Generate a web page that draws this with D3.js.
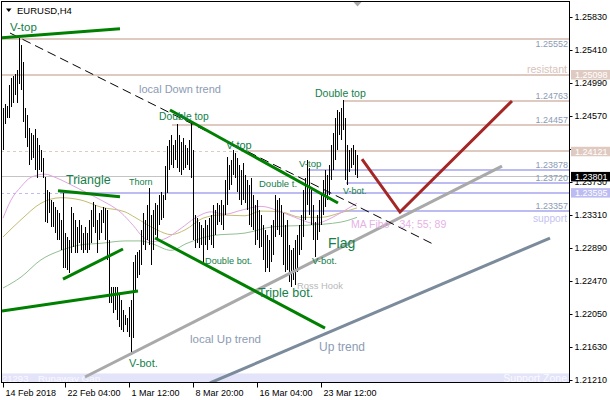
<!DOCTYPE html>
<html><head><meta charset="utf-8">
<script src="https://cdn.jsdelivr.net/npm/d3@7/dist/d3.min.js"></script>
<style>
html,body{margin:0;padding:0;background:#fff;}
svg{display:block;}
text{font-family:"Liberation Sans",Arial,sans-serif;}
</style></head><body>
<svg id="chart" width="610" height="400"></svg>
<script>
// ---- data (EURUSD H4, bar index 0 = first visible bar) ----
const barHigh = [1.2467,1.2472,1.2470,1.2496,1.2505,1.2508,1.2510,1.2515,1.2556,1.2547,
1.2526,1.2467,1.2458,1.2442,1.2436,1.2433,1.2440,1.2429,1.2420,1.2414,
1.2404,1.2379,1.2363,1.2360,1.2350,1.2348,1.2341,1.2337,1.2333,1.2325,
1.2359,1.2308,1.2303,1.2299,1.2341,1.2333,1.2325,1.2316,1.2325,1.2318,
1.2308,1.2316,1.2308,1.2325,1.2337,1.2348,1.2344,1.2325,1.2333,1.2337,
1.2341,1.2340,1.2337,1.2299,1.2239,1.2239,1.2239,1.2239,1.2232,1.2223,
1.2210,1.2204,1.2200,1.2214,1.2223,1.2271,1.2280,1.2284,1.2286,1.2312,
1.2333,1.2325,1.2344,1.2365,1.2331,1.2337,1.2346,1.2344,1.2356,1.2360,
1.2356,1.2393,1.2419,1.2426,1.2433,1.2420,1.2426,1.2447,1.2433,1.2424,
1.2429,1.2420,1.2416,1.2426,1.2449,1.2414,1.2331,1.2327,1.2322,1.2318,
1.2314,1.2325,1.2318,1.2327,1.2331,1.2344,1.2337,1.2346,1.2344,1.2350,
1.2344,1.2375,1.2405,1.2395,1.2401,1.2414,1.2410,1.2404,1.2395,1.2388,
1.2397,1.2382,1.2375,1.2369,1.2378,1.2356,1.2344,1.2350,1.2337,1.2331,
1.2318,1.2312,1.2305,1.2299,1.2318,1.2325,1.2356,1.2350,1.2353,1.2344,
1.2333,1.2318,1.2325,1.2293,1.2286,1.2289,1.2299,1.2305,1.2318,1.2331,
1.2363,1.2378,1.2401,1.2391,1.2363,1.2344,1.2322,1.2331,1.2350,1.2359,
1.2375,1.2388,1.2382,1.2395,1.2420,1.2436,1.2455,1.2465,1.2462,1.2467,
1.2477,1.2455,1.2420,1.2414,1.2416,1.2420,1.2414,1.2407];
const barLow = [1.2414,1.2447,1.2454,1.2454,1.2468,1.2473,1.2484,1.2473,1.2498,1.2490,
1.2449,1.2429,1.2418,1.2395,1.2401,1.2404,1.2388,1.2378,1.2388,1.2386,
1.2378,1.2322,1.2321,1.2334,1.2316,1.2316,1.2308,1.2299,1.2299,1.2286,
1.2263,1.2263,1.2261,1.2257,1.2283,1.2290,1.2283,1.2283,1.2295,1.2286,
1.2283,1.2286,1.2283,1.2286,1.2295,1.2316,1.2308,1.2283,1.2299,1.2308,
1.2321,1.2299,1.2274,1.2219,1.2219,1.2206,1.2210,1.2197,1.2188,1.2185,
1.2182,1.2191,1.2182,1.2176,1.2153,1.2175,1.2236,1.2251,1.2255,1.2267,
1.2293,1.2286,1.2299,1.2293,1.2267,1.2286,1.2305,1.2299,1.2318,1.2325,
1.2327,1.2350,1.2359,1.2388,1.2395,1.2391,1.2401,1.2391,1.2386,1.2382,
1.2388,1.2391,1.2395,1.2388,1.2378,1.2299,1.2289,1.2295,1.2289,1.2293,
1.2270,1.2293,1.2286,1.2299,1.2293,1.2289,1.2305,1.2318,1.2322,1.2318,
1.2312,1.2331,1.2344,1.2363,1.2369,1.2382,1.2378,1.2360,1.2350,1.2344,
1.2350,1.2346,1.2337,1.2318,1.2316,1.2312,1.2293,1.2299,1.2289,1.2290,
1.2274,1.2258,1.2263,1.2258,1.2271,1.2280,1.2303,1.2312,1.2305,1.2303,
1.2268,1.2258,1.2261,1.2246,1.2239,1.2248,1.2242,1.2258,1.2280,1.2286,
1.2303,1.2325,1.2344,1.2331,1.2318,1.2299,1.2278,1.2299,1.2309,1.2318,
1.2331,1.2341,1.2350,1.2356,1.2375,1.2388,1.2401,1.2414,1.2433,1.2426,
1.2439,1.2375,1.2369,1.2386,1.2391,1.2395,1.2382,1.2378];

const priceTicks = [1.25830,1.25410,1.24990,1.24570,1.24150,1.23730,1.23310,1.22890,1.22470,1.22050,1.21630,1.21210];
const hiddenTickLabels = [1.24150]; // covered by the 1.24121 price box
const dateTickIdx = [0,31,63,95,127,159];
const dateTickLabels = ["14 Feb 2018","22 Feb 04:00","1 Mar 12:00","8 Mar 20:00","16 Mar 04:00","23 Mar 12:00"];

// MA Fibo 34 / 55 / 89 at sample bars [index, price]
const ma34 = [[0,1.2327],[4,1.2350],[9,1.2367],[14,1.2379],[21,1.2383],[26,1.2379],[32,1.2372],[39,1.2363],[49,1.2350],[59,1.2334],[65,1.2318],[70,1.2303],[75,1.2297],[82,1.2302],[89,1.2314],[96,1.2327],[104,1.2335],[111,1.2332],[119,1.2337],[129,1.2342],[139,1.2335],[149,1.2325],[156,1.2320],[164,1.2327],[171,1.2337],[177,1.2346]];
const ma55 = [[0,1.2303],[9,1.2325],[19,1.2346],[29,1.2353],[39,1.2350],[49,1.2341],[61,1.2335],[66,1.2328],[77,1.2312],[84,1.2306],[91,1.2312],[100,1.2327],[109,1.2331],[121,1.2330],[129,1.2336],[139,1.2335],[149,1.2328],[159,1.2328],[169,1.2334],[177,1.2340]];
const ma89 = [[0,1.2238],[9,1.2252],[19,1.2274],[29,1.2286],[39,1.2293],[49,1.2295],[61,1.2298],[69,1.2298],[75,1.2294],[84,1.2286],[92,1.2295],[105,1.2305],[121,1.2308],[135,1.2316],[152,1.2318],[169,1.2322],[177,1.2328]];

// horizontal levels: price and first bar index
const levelPrices = [1.25552,1.25098,1.24763,1.24457,1.24121,1.23878,1.23720,1.23595,1.23357];
const levelStart  = [-2,-2,170,84.5,120,152.5,171.5,28.5,143.5];
const levelKind   = ["rose","rose","rose","rose","rose","lav","lav","lav","lav"];
const levelBoxed  = [false,true,false,false,true,false,false,true,false];
const levelDashTo = [null,null,null,null,120,null,null,28.5,null];
const bidPrice = 1.23801;
const zonePrice = 1.21293;

// trend lines [index, price]
const greenLines = [
  [[-0.5,1.25566],[58.5,1.25681]],
  [[83.5,1.24646],[167.5,1.23462]],
  [[76,1.23017],[161,1.21871]],
  [[27.5,1.23619],[58.5,1.23543]],
  [[30,1.22495],[60,1.22877]],
  [[-0.5,1.22088],[67.5,1.22342]]
];
const downTrend = [[3.5,1.25626],[216,1.22928]];
const localUp = [[41,1.21248],[249.5,1.23933]];
const upTrend = [[103.5,1.21172],[273.5,1.23017]];
const redV = [[179.5,1.24022],[198.5,1.23348],[254.5,1.24761]];

// text notes [text, index, price, kind, size]
const notes = [
  ["V-top",3.5,1.25651,"g",11.5],
  ["local Down trend",68,1.24862,"b",11],
  ["Double top",78,1.24519,"g",10.3],
  ["V-top",111.5,1.24150,"g",11],
  ["Double top",156,1.24811,"g",10.5],
  ["Triangle",31.5,1.23704,"g",12.5],
  ["Thorn",63,1.23691,"g",9],
  ["Double t.",128,1.23666,"g",9.5],
  ["V-top",148,1.23921,"g",9.6],
  ["V-bot.",170,1.23577,"g",9],
  ["Double bot.",101,1.22686,"g",9.2],
  ["V-bot.",154.5,1.22686,"g",9.5],
  ["Triple bot.",127.5,1.22266,"g",12.5],
  ["Ross Hook",147,1.22368,"r",9.4],
  ["Flag",162.5,1.22890,"g",14],
  ["local Up trend",93.5,1.21681,"b",11.5],
  ["Up trend",158,1.21579,"b",12],
  ["V-bot.",63,1.21375,"g",11]
];

// ---- drawing ----
const svg = d3.select("#chart");
const PL=1, PR=570, PT=1, PB=383;
const x = d3.scaleLinear().domain([0,177]).range([3,357]);
const y = d3.scaleLinear().domain([1.21210,1.25830]).range([380,17]);
const C = {rose:"#dfcac2", lav:"#bcbcf3", g:"#14804a", b:"#8c9bb4", r:"#b8b8b8",
  green:"#008000", gray:"#a9a9a9", slate:"#7b8b9b", red:"#a52626"};

svg.append("rect").attr("width",610).attr("height",400).attr("fill","#fff");
svg.append("defs").append("clipPath").attr("id","plot")
  .append("rect").attr("x",PL+1).attr("y",PT+1).attr("width",PR-PL-1).attr("height",PB-PT-1);
const plot = svg.append("g").attr("clip-path","url(#plot)");

// support zone band
plot.append("rect").attr("x",PL).attr("y",y(zonePrice)).attr("width",PR-PL)
  .attr("height",PB-y(zonePrice)).attr("fill","#e3e3fa");
plot.append("text").attr("x",2).attr("y",381.5).attr("font-size",9.5).attr("fill","#fafaff").text("21293");
plot.append("text").attr("x",38).attr("y",381.5).attr("font-size",9.8).attr("fill","#fafaff").text("Runaway Gap");
plot.append("text").attr("x",567).attr("y",381.5).attr("text-anchor","end").attr("font-size",10.5).attr("fill","#fafaff").text("Support Zone");

// levels
levelPrices.forEach((p,k)=>{
  const yy = Math.round(y(p));
  const col = C[levelKind[k]];
  if(levelDashTo[k]!==null){
    plot.append("line").attr("x1",PL).attr("x2",x(levelDashTo[k])).attr("y1",yy+0.5).attr("y2",yy+0.5)
      .attr("stroke",col).attr("stroke-width",1).attr("stroke-dasharray","3,3");
  }
  plot.append("line").attr("x1",Math.max(PL,x(levelStart[k]))).attr("x2",PR).attr("y1",yy).attr("y2",yy)
    .attr("stroke",col).attr("stroke-width",2.2);
});
// bid line
plot.append("line").attr("x1",PL).attr("x2",PR).attr("y1",Math.round(y(bidPrice))+0.5).attr("y2",Math.round(y(bidPrice))+0.5)
  .attr("stroke","#c4c4c4").attr("stroke-width",1);

// level price labels
const lblCol = "#8b9bb5";
levelPrices.forEach((p,k)=>{
  if(levelBoxed[k]) return;
  const dy = (k===0) ? 8.5 : -2;
  plot.append("text").attr("x",568).attr("y",y(p)+dy).attr("text-anchor","end")
    .attr("font-size",9).attr("fill",lblCol).text(p.toFixed(5));
});
plot.append("text").attr("x",567).attr("y",y(levelPrices[1])-1.5).attr("text-anchor","end")
  .attr("font-size",10.6).attr("fill","#d9c2ba").text("resistant");
plot.append("text").attr("x",567).attr("y",y(levelPrices[8])+11).attr("text-anchor","end")
  .attr("font-size",10.2).attr("fill","#c3c3f2").text("support");

// moving averages
const maLine = d3.line().x(d=>x(d[0])).y(d=>y(d[1])).curve(d3.curveMonotoneX);
[[ma89,"#93bf93"],[ma55,"#c4bd72"],[ma34,"#e0a6e0"]].forEach(([d,c])=>{
  plot.append("path").attr("d",maLine(d)).attr("fill","none").attr("stroke",c).attr("stroke-width",1);
});

// bars
plot.append("g").selectAll("line").data(barHigh).join("line")
  .attr("x1",(d,i)=>Math.round(x(i))+0.5).attr("x2",(d,i)=>Math.round(x(i))+0.5)
  .attr("y1",d=>y(d)).attr("y2",(d,i)=>y(barLow[i]))
  .attr("stroke","#000").attr("stroke-width",1).attr("shape-rendering","crispEdges");

// trend lines
const tl = d3.line().x(d=>x(d[0])).y(d=>y(d[1]));
plot.append("path").attr("d",tl(localUp)).attr("stroke",C.gray).attr("stroke-width",3).attr("fill","none");
plot.append("path").attr("d",tl(upTrend)).attr("stroke",C.slate).attr("stroke-width",3).attr("fill","none");
plot.append("path").attr("d",tl(downTrend)).attr("stroke","#000").attr("stroke-width",1).attr("stroke-dasharray","9,5").attr("fill","none");
greenLines.forEach(l=>plot.append("path").attr("d",tl(l)).attr("stroke",C.green).attr("stroke-width",3).attr("fill","none"));
plot.append("path").attr("d",tl(redV)).attr("stroke",C.red).attr("stroke-width",3).attr("fill","none");

// notes
notes.forEach(([t,i,p,k,s])=>{
  plot.append("text").attr("x",x(i)).attr("y",y(p)).attr("font-size",s).attr("fill",C[k]).text(t);
});
const ma = plot.append("text").attr("x",351).attr("y",y(1.23144)).attr("font-size",10.5).attr("fill","#e6b2e6");
ma.append("tspan").text("MA Fibo");
ma.append("tspan").attr("dx",10).text("34; 55; 89");

// frame
svg.append("rect").attr("x",PL+0.5).attr("y",PT+0.5).attr("width",PR-PL-1).attr("height",PB-PT-1)
  .attr("fill","none").attr("stroke","#000").attr("stroke-width",1);

// right axis
const ya = svg.append("g").attr("transform",`translate(${PR-0.5},0)`)
  .call(d3.axisRight(y).tickValues(priceTicks).tickSize(3).tickPadding(2)
    .tickFormat(d=>hiddenTickLabels.includes(d)?"":d3.format(".5f")(d)));
ya.select(".domain").remove();
ya.selectAll("text").attr("font-size",9).attr("font-family","Liberation Sans, Arial").attr("fill","#000");
ya.selectAll("line").attr("stroke","#000");

// axis boxes
const boxes = [[levelPrices[1],C.rose],[levelPrices[4],C.rose],[bidPrice,"#000"],[levelPrices[7],C.lav]];
boxes.forEach(([p,c])=>{
  const yy = y(p);
  svg.append("rect").attr("x",PR+1).attr("y",yy-4.5).attr("width",610-PR-1).attr("height",9.5).attr("fill",c);
  svg.append("text").attr("x",PR+5).attr("y",yy+3.6).attr("font-size",9).attr("fill","#fff").text(p.toFixed(5));
});

// bottom axis
const xa = svg.append("g").attr("transform",`translate(0,${PB-0.5})`)
  .call(d3.axisBottom(x).tickValues(dateTickIdx).tickSize(5).tickPadding(2).tickFormat((d,i)=>dateTickLabels[i]));
xa.select(".domain").remove();
xa.selectAll("text").attr("text-anchor","start").attr("x",2).attr("font-size",9).attr("font-family","Liberation Sans, Arial").attr("fill","#000");
xa.selectAll("line").attr("stroke","#000");

// header
svg.append("path").attr("d","M6,8.5 L11.5,8.5 L8.75,12 Z").attr("fill","#000");
svg.append("text").attr("x",17).attr("y",13.5).attr("font-size",9.5).attr("fill","#000").text("EURUSD,H4");
// chart shift marker
svg.append("path").attr("d","M353.5,2 L361.5,2 L357.5,6.5 Z").attr("fill","#a8a8a8");
</script>
</body></html>
